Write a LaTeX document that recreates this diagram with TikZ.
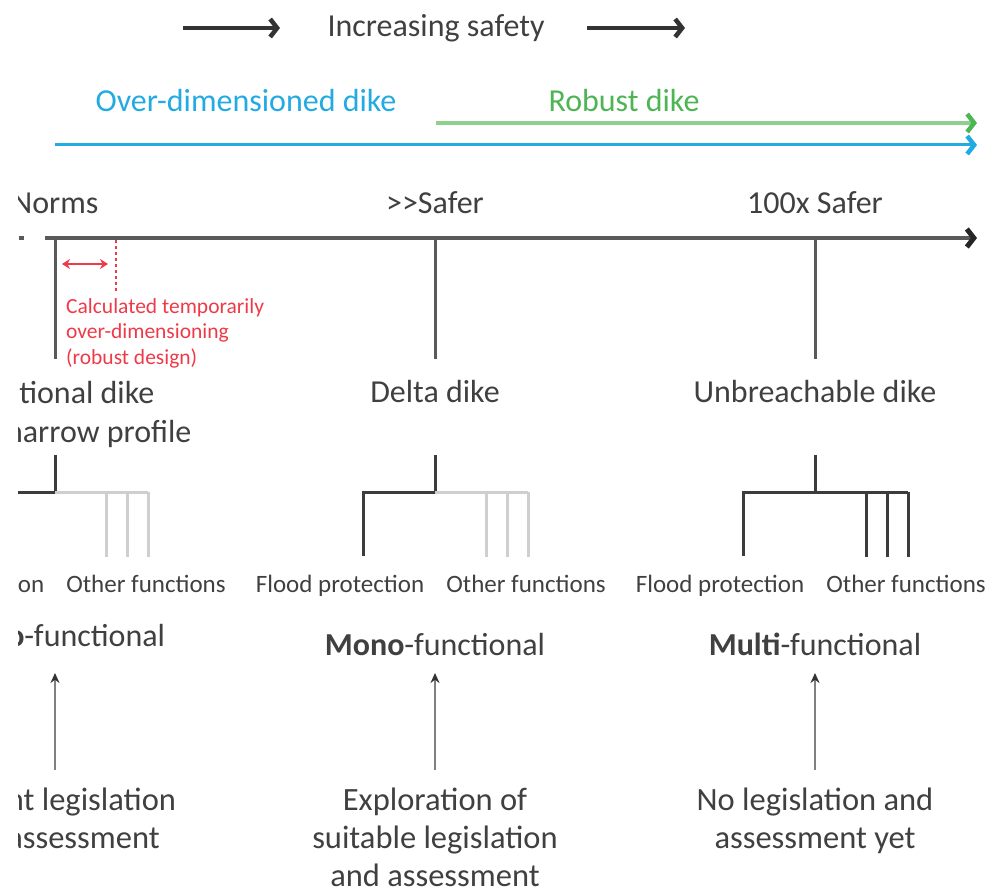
\documentclass[tikz,border=0pt]{standalone}
\usepackage{fontspec}
\setmainfont{Carlito}
\usetikzlibrary{arrows.meta}

\definecolor{textgray}{HTML}{404040}
\definecolor{skyblue}{HTML}{22AAE2}
\definecolor{robustgreen}{HTML}{4DB553}
\definecolor{greenline}{HTML}{8ED18E}
\definecolor{axisgray}{HTML}{5A5A5A}
\definecolor{branchdark}{HTML}{3C3C3C}
\definecolor{branchlight}{HTML}{CFCFCF}
\definecolor{notered}{HTML}{EE3A48}

\tikzset{
  big/.style={font=\fontsize{32}{39}\selectfont, text=textgray, inner sep=0pt, anchor=base, align=center},
  small/.style={font=\fontsize{25}{28}\selectfont, text=textgray, inner sep=0pt, anchor=base},
  note/.style={font=\fontsize{21.5}{25.5}\selectfont, text=notered, inner sep=0pt, anchor=base west, align=left},
  toparrow/.style={-{Straight Barb[length=7pt,width=18pt,line width=4.5pt]}, line width=3.5pt, black!80},
  tick/.style={axisgray, line width=3pt},
  branch/.style={line width=3pt},
  uparrow/.style={-{Stealth[length=10pt,width=9pt,black!80]}, line width=2pt, gray}
}

\begin{document}
\begin{tikzpicture}[x=1pt,y=-1pt]
\useasboundingbox (0,0) rectangle (990,890);
\clip (18,0) rectangle (990,890);

% increasing safety
\node[big] (safety) at (436,37) {Increasing safety};
\coordinate (la) at (183,28);
\coordinate (lb) at (280,28);
\coordinate (ra) at (587,28);
\coordinate (rb) at (685,28);
\draw[toparrow] (la) -- (lb);
\draw[toparrow] (ra) -- (rb);

% dike types
\node[big, text=skyblue] (over) at (246,112) {Over-dimensioned dike};
\node[big, text=robustgreen] (robust) at (624,112) {Robust dike};
\coordinate (gstart) at (436,123);
\coordinate (gend) at (977,123);
\coordinate (bstart) at (55,145);
\coordinate (bend) at (977,145);
\draw[-{Straight Barb[length=7pt,width=18pt,line width=4.5pt,robustgreen]}, greenline, line width=3.5pt] (gstart) -- (gend);
\draw[-{Straight Barb[length=7pt,width=18pt,line width=4.5pt]}, skyblue, line width=3pt] (bstart) -- (bend);

% safety axis
\node[big] (norms) at (55,214) {Norms};
\node[big] (safer) at (435,214) {>{}>Safer};
\node[big] (hundred) at (815,214) {100x Safer};
\coordinate (astart) at (45,238);
\coordinate (aend) at (977,238);
\draw[-{Straight Barb[length=7pt,width=18pt,line width=5pt,black!85]}, axisgray, line width=4pt] (astart) -- (aend);
\draw[axisgray, line width=4pt] (19,238) -- (24,238);

% calculated over-dimensioning
\coordinate (da) at (62,264);
\coordinate (db) at (108,264);
\draw[{Stealth[length=8pt,width=10pt]}-{Stealth[length=8pt,width=10pt]}, notered, line width=2.5pt] (da) -- (db);
\draw[notered, line width=1.5pt, dash pattern=on 3pt off 3pt] (116,240) -- (116,292);
\node[note] (calc) at (66,364) {Calculated temporarily\\over-dimensioning\\(robust design)};

% the three dikes
\node[big] (trad) at (55,442) {Traditional dike\\with a narrow profile};
\node[big] (delta) at (435,402) {Delta dike};
\node[big] (unbr) at (815,402) {Unbreachable dike};
\foreach \c in {55,435,815}{
\draw[tick] (\c,238) -- (\c,359);
}

% functions
\foreach \c/\oc in {55/branchlight,435/branchlight,815/branchdark}{
\draw[branch, branchdark] (\c,455) -- (\c,492) -- (\c-72,492) -- (\c-72,556);
\draw[branch, \oc] (\c,492) -- (\c+93,492);
\foreach \d in {51,72,93}{
\draw[branch, \oc] (\c+\d,492) -- (\c+\d,557);
}
\node[small] at (\c-95,592) {Flood protection};
\node[small] at (\c+91,592) {Other functions};
}

\node[big] (mono0) at (55,646) {\textbf{Mono}-functional};
\node[big] (mono) at (435,655) {\textbf{Mono}-functional};
\node[big] (multi) at (815,655) {\textbf{Multi}-functional};

% legislation
\node[big, font=\fontsize{32.5}{38}\selectfont] (current) at (55,848) {Current legislation\\and assessment};
\node[big, font=\fontsize{32.5}{38}\selectfont] (explore) at (435,886) {Exploration of\\suitable legislation\\and assessment};
\node[big, font=\fontsize{32.5}{38}\selectfont] (nolaw) at (815,848) {No legislation and\\assessment yet};
\foreach \c in {55,435,815}{
\draw[uparrow] (\c,770) -- (\c,673);
}
\end{tikzpicture}
\end{document}
